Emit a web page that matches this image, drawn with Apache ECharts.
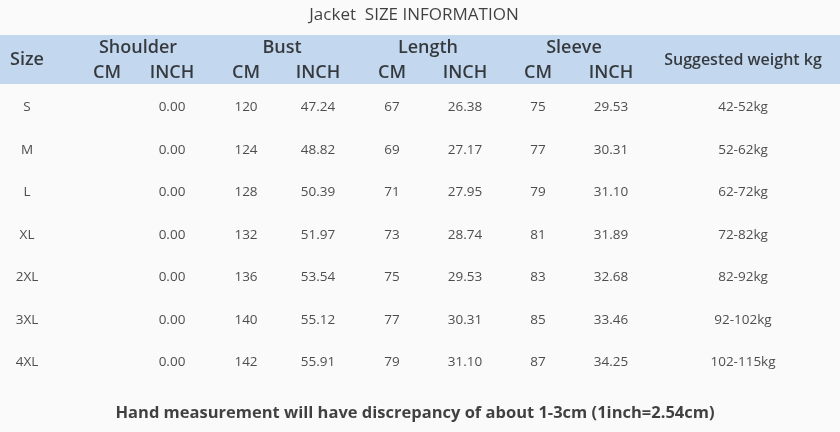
<!DOCTYPE html>
<html><head><meta charset="utf-8">
<script src="https://cdn.jsdelivr.net/npm/echarts@6/dist/echarts.min.js"></script>
<style>html,body{margin:0;padding:0;background:#fafafa}#c{width:840px;height:432px}</style>
</head><body><div id="c"></div>
<script>
const title = "Jacket  SIZE INFORMATION";
const footer = "Hand measurement will have discrepancy of about 1-3cm (1inch=2.54cm)";
const groupHeaders = ["Shoulder", "Bust", "Length", "Sleeve"];
const subHeaders = ["CM","INCH","CM","INCH","CM","INCH","CM","INCH"];
const sizes = ["S","M","L","XL","2XL","3XL","4XL"];
const shoulderCm = ["","","","","","",""];
const shoulderInch = ["0.00","0.00","0.00","0.00","0.00","0.00","0.00"];
const bustCm = [120,124,128,132,136,140,142];
const bustInch = ["47.24","48.82","50.39","51.97","53.54","55.12","55.91"];
const lengthCm = [67,69,71,73,75,77,79];
const lengthInch = ["26.38","27.17","27.95","28.74","29.53","30.31","31.10"];
const sleeveCm = [75,77,79,81,83,85,87];
const sleeveInch = ["29.53","30.31","31.10","31.89","32.68","33.46","34.25"];
const weights = ["42-52kg","52-62kg","62-72kg","72-82kg","82-92kg","92-102kg","102-115kg"];

// layout (pixel positions on the value axes)
const colX = [27,107,172,246,318,392,465,538,611,743];
const groupX = [138,282,428,574];
const rowY = [107,150,192,235,277,320,362];
const font = "'Open Sans', 'Noto Sans', sans-serif";

const cols = [sizes, shoulderCm, shoulderInch, bustCm, bustInch, lengthCm, lengthInch, sleeveCm, sleeveInch, weights];
const cellData = [];
cols.forEach((col, ci) => col.forEach((v, ri) => cellData.push({value:[colX[ci], rowY[ri]], label:{formatter:String(v)}})));

function textSeries(data, size, weight, color) {
  return {type:'scatter', symbolSize:0, silent:true, data:data,
    label:{show:true, position:'inside', fontFamily:font, fontSize:size, fontWeight:weight, color:color}};
}
const headerData = groupHeaders.map((g,i)=>({value:[groupX[i],48],label:{formatter:g}}))
  .concat(subHeaders.map((s,i)=>({value:[colX[i+1],73],label:{formatter:s}})))
  .concat([{value:[colX[0],60],label:{formatter:"Size"}}]);

const chart = echarts.init(document.getElementById('c'));
chart.setOption({
  animation:false,
  grid:{left:0,right:0,top:0,bottom:0},
  xAxis:{type:'value',min:0,max:840,show:false},
  yAxis:{type:'value',min:0,max:432,inverse:true,show:false},
  series:[
    Object.assign(textSeries(headerData,18,600,'#111'),{
      markArea:{silent:true,itemStyle:{color:'#c3d8ef'},data:[[{coord:[0,35]},{coord:[840,84]}]]}}),
    textSeries([{value:[743,60],label:{formatter:"Suggested weight kg"}}],16,600,'#111'),
    textSeries(cellData,13.5,'normal','#222'),
    textSeries([{value:[414,15],label:{formatter:title}}],17,500,'#111'),
    textSeries([{value:[415,413],label:{formatter:footer}}],16.5,'bold','#111')
  ]
});
</script></body></html>
